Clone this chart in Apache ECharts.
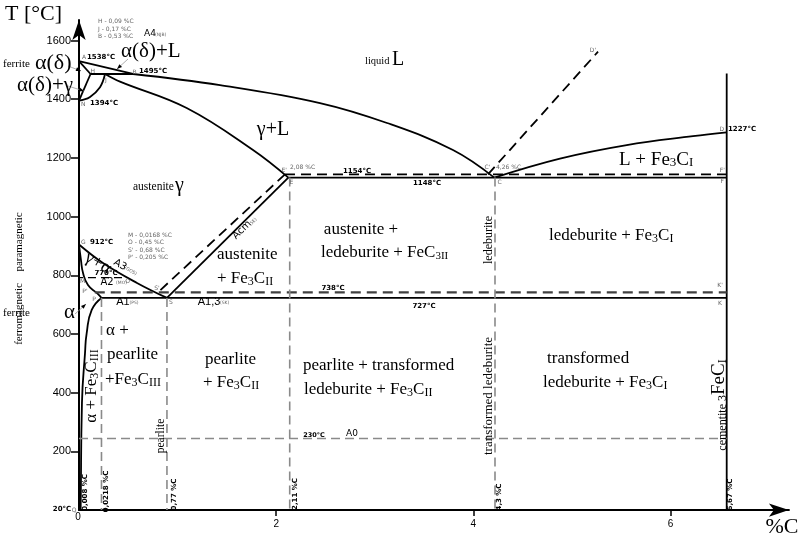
<!DOCTYPE html>
<html><head><meta charset="utf-8">
<script src="https://cdn.jsdelivr.net/npm/echarts@6/dist/echarts.min.js"></script>
<style>html,body{margin:0;padding:0;background:#fff}#c{width:800px;height:537px}</style>
</head><body><div id="c"></div>
<script>
// ---- data (x = %C on the drawn axis, y = °C on the drawn axis) ----
const xTickValues = [2, 4, 6];
const yTickValues = [200, 400, 600, 800, 1000, 1200, 1400, 1600];

const lineAB = [[0, 1530], [0.548, 1486]];
const lineAH = [[0, 1530], [0.117, 1486]];
const lineHN = [[0.117, 1486], [0, 1395]];
const lineHB = [[0.117, 1486], [0.548, 1486]];
const curveJN = [[0.264, 1486], [0.213, 1441], [0.112, 1408], [0.027, 1397], [0, 1395]];
const curveJE = [[0.264, 1486], [0.416, 1460], [1.092, 1370], [1.765, 1227], [2.123, 1133]];
const liquidusBC = [[0.548, 1486], [1.43, 1448], [2.444, 1387], [3.124, 1319], [3.793, 1227], [4.212, 1133]];
const liquidusCD = [[4.212, 1133], [4.878, 1198], [5.555, 1244], [6.227, 1274], [6.569, 1287]];
const eutecticEF = [[2.123, 1133], [6.569, 1133]];
const eutectoidPK = [[0.228, 723], [6.569, 723]];
const lineES = [[2.123, 1133], [0.892, 723]];
const curveGS = [[0, 905], [0.243, 842], [0.588, 774], [0.892, 723]];
const curveGP = [[0, 905], [0.02, 852], [0.041, 808], [0.091, 767], [0.183, 739], [0.228, 723]];
const curvePQ = [[0.228, 723], [0.129, 682], [0.078, 603], [0.061, 535], [0.03, 365], [0.017, 10], [0.015, 0]];
const cementiteLine = [[6.569, 1488], [6.569, 0]];

const stableES = [[2.089, 1144], [0.801, 742]];
const stableEF = [[2.089, 1144], [6.569, 1144]];
const stableCD = [[4.148, 1144], [5.264, 1562]];
const stablePK = [[0.16, 742], [6.569, 742]];
const curieLine = [[-0.7, 792], [0.467, 792]];

const dropP = [[0.228, 723], [0.228, 0]];
const dropS = [[0.892, 723], [0.892, 0]];
const dropE = [[2.137, 1133], [2.137, 0]];
const dropC = [[4.219, 1133], [4.219, 0]];
const lineA0 = [[0, 244], [6.569, 244]];

// ---- styles ----
const SERIF = "'Liberation Serif','DejaVu Serif',serif";
const SANS = "'DejaVu Sans',sans-serif";
const LSANS = "'Liberation Sans','DejaVu Sans',sans-serif";

function ln(data, color, width, type, smooth) {
  return { type: 'line', data: data, symbol: 'none', showSymbol: false, smooth: smooth || false,
    clip: false, silent: true, animation: false,
    lineStyle: { color: color, width: width, type: type || 'solid' }, z: 3 };
}
const BLK = '#000', GRY = '#8a8a8a', DK = '#404040';
const series = [
  ln(lineAB, BLK, 1.8), ln(lineAH, BLK, 1.8), ln(lineHN, BLK, 1.8), ln(lineHB, BLK, 1.8),
  ln(curveJN, BLK, 1.8, 'solid', 0.4), ln(curveJE, BLK, 1.8, 'solid', 0.4),
  ln(liquidusBC, BLK, 1.8, 'solid', 0.4), ln(liquidusCD, BLK, 1.8, 'solid', 0.4),
  ln(eutecticEF, BLK, 1.8), ln(eutectoidPK, BLK, 1.8), ln(lineES, BLK, 1.8),
  ln(curveGS, BLK, 1.8, 'solid', 0.4), ln(curveGP, BLK, 1.8, 'solid', 0.5),
  ln(curvePQ, BLK, 1.8, 'solid', 0.5), ln(cementiteLine, BLK, 1.8),
  ln(stableES, BLK, 1.8, [10, 6]), ln(stableEF, BLK, 1.8, [10, 6]), ln(stableCD, BLK, 1.8, [10, 6]),
  ln(stablePK, DK, 2.4, [10, 6]), ln(curieLine, BLK, 1.4, [8, 5]),
  ln(dropP, GRY, 1.6, [9, 5]), ln(dropS, GRY, 1.6, [9, 5]), ln(dropE, GRY, 1.6, [9, 5]),
  ln(dropC, GRY, 1.6, [9, 5]), ln(lineA0, GRY, 1.6, [9, 5])
];

// ---- annotation text ----
function t(x, y, text, o) {
  o = o || {};
  const st = { text: text, fill: o.color || '#000', fontSize: o.size || 12, fontFamily: o.font || SERIF,
    fontWeight: o.weight || 'normal', align: o.align || 'left', verticalAlign: 'middle' };
  if (o.rich) st.rich = o.rich;
  return { type: 'text', x: x, y: y, rotation: o.rot || 0, z: 100, silent: true, style: st };
}
function R(big, small) {
  return { m: { fontSize: big, fontFamily: SERIF, verticalAlign: 'bottom', fill: '#000' },
           s: { fontSize: small, fontFamily: SERIF, verticalAlign: 'bottom', fill: '#000' } };
}
const tiny = { size: 6, font: SANS, color: '#666' };
const tinyC = { size: 6, font: SANS, color: '#666', align: 'center' };
const bold7 = { size: 7, font: SANS, weight: 'bold' };
const VP = Math.PI / 2;
function leader(x1, y1, x2, y2) {
  const dx = x2 - x1, dy = y2 - y1, L = Math.sqrt(dx * dx + dy * dy), ux = dx / L, uy = dy / L;
  const bx = x2 - ux * 5, by = y2 - uy * 5;
  return [
    { type: 'line', z: 99, silent: true, shape: { x1: x1, y1: y1, x2: x2, y2: y2 }, style: { stroke: '#999', lineWidth: 0.8 } },
    { type: 'polygon', z: 99, silent: true, shape: { points: [[x2, y2], [bx - uy * 2, by + ux * 2], [bx + uy * 2, by - ux * 2]] }, style: { fill: '#000' } }
  ];
}

const texts = [
  t(5, 14, 'T [°C]', { size: 22 }),
  t(782, 527, '%C', { size: 22, align: 'center' }),
  t(78, 517.5, '0', { size: 10, font: LSANS, align: 'center' }),
  t(98, 21.7, 'H - 0,09 %C', tiny), t(98, 29, 'J - 0,17 %C', tiny), t(98, 36.3, 'B - 0,53 %C', tiny),
  t(144, 34, 'A4', { size: 9, font: SANS }), t(155, 35, '(NJB)', { size: 4.5, font: SANS, color: '#666' }),
  t(121, 51, 'α(δ)+L', { size: 21 }),
  t(3, 64, 'ferrite', { size: 11 }), t(35, 63, 'α(δ)', { size: 22 }),
  t(17, 85, 'α(δ)+γ', { size: 21 }),
  t(84, 57.5, 'A', tinyC), t(87, 57.5, '1538°C', bold7),
  t(92.7, 71.5, 'H', tinyC), t(106, 80, 'J', tinyC), t(134.5, 72.7, 'B', tinyC), t(139, 71.3, '1495°C', bold7),
  t(83.3, 104.3, 'N', tinyC), t(90, 103, '1394°C', bold7),
  t(365, 61.5, 'liquid', { size: 10.5 }), t(392, 60, 'L', { size: 20 }),
  t(273, 130, 'γ+L', { size: 20, align: 'center' }),
  t(133, 187, 'austenite', { size: 11.5 }), t(175, 186, 'γ', { size: 20 }),
  t(284.3, 170.7, "E'", tinyC), t(291.5, 182.3, 'E', tinyC), t(290, 167.7, '2,08 %C', tiny),
  t(357, 170.7, '1154°C', { size: 7, font: SANS, weight: 'bold', align: 'center' }),
  t(427, 182.7, '1148°C', { size: 7, font: SANS, weight: 'bold', align: 'center' }),
  t(487.3, 167.3, "C'", tinyC), t(496, 167, '4,26 %C', tiny), t(499.5, 182.7, 'C', tinyC),
  t(593, 50, "D'", tinyC), t(721.7, 129, 'D', tinyC), t(728, 129, '1227°C', bold7),
  t(722.3, 170, "F'", tinyC), t(722.3, 181.7, 'F', tinyC),
  t(619, 160, '{m|L + Fe}{s|3}{m|C}{s|I}', { rich: R(19, 13) }),
  t(361, 230, 'austenite +', { size: 17, align: 'center' }),
  t(321, 253, '{m|ledeburite + FeC}{s|3II}', { rich: R(17, 11) }),
  t(489, 240, 'ledeburite', { size: 12, rot: VP, align: 'center' }),
  t(549, 236, '{m|ledeburite + Fe}{s|3}{m|C}{s|I}', { rich: R(17, 12) }),
  t(217, 255, 'austenite', { size: 17 }),
  t(217, 279, '{m|+ Fe}{s|3}{m|C}{s|II}', { rich: R(17, 12) }),
  t(242, 230, 'Acm', { size: 10, font: SANS, rot: Math.PI / 4, align: 'center' }),
  t(253, 222, '(SE)', { size: 4.5, font: SANS, color: '#666', rot: Math.PI / 4, align: 'center' }),
  t(98, 263, 'γ+α', { size: 18, rot: -Math.PI / 6, align: 'center' }),
  t(106, 273, '770°C', { size: 7, font: SANS, weight: 'bold', align: 'center' }),
  t(120, 265, 'A3', { size: 10, font: SANS, rot: -Math.PI / 6, align: 'center' }),
  t(130.5, 271, '(GOS)', { size: 4.5, font: SANS, color: '#666', rot: -Math.PI / 6, align: 'center' }),
  t(107, 282, 'A2', { size: 10, font: SANS, align: 'center' }), t(116, 283, '(MO)', { size: 4.5, font: SANS, color: '#666' }),
  t(127.7, 281.7, 'O', tinyC), t(82.7, 281.7, 'M', tinyC),
  t(128, 235, 'M - 0,0168 %C', tiny), t(128, 242.5, 'O - 0,45 %C', tiny),
  t(128, 250, "S' - 0,68 %C", tiny), t(128, 257.5, "P' - 0,205 %C", tiny),
  t(83.3, 242.7, 'G', tinyC), t(90, 242.5, '912°C', bold7),
  t(85, 291.7, "P'", tinyC), t(94, 299, 'P', tinyC), t(157, 288, "S'", tinyC), t(171, 302.5, 'S', tinyC),
  t(123, 302, 'A1', { size: 11, font: LSANS, align: 'center' }), t(129.5, 303, '(PS)', { size: 4.5, font: SANS, color: '#666' }),
  t(209, 302, 'A1,3', { size: 11, font: LSANS, align: 'center' }), t(220, 303, '(SK)', { size: 4.5, font: SANS, color: '#666' }),
  t(333, 288, '738°C', { size: 7, font: SANS, weight: 'bold', align: 'center' }),
  t(424, 305.7, '727°C', { size: 7, font: SANS, weight: 'bold', align: 'center' }),
  t(720, 285.5, "K'", tinyC), t(720, 303.7, 'K', tinyC),
  t(3, 313, 'ferrite', { size: 11 }), t(64, 312, 'α', { size: 21 }),
  t(106, 331, 'α +', { size: 17 }), t(107, 355, 'pearlite', { size: 17 }),
  t(105, 380, '{m|+Fe}{s|3}{m|C}{s|III}', { rich: R(17, 12) }),
  t(92, 386, '{m|α + Fe}{s|3}{m|C}{s|III}', { rich: R(17, 12), rot: VP, align: 'center' }),
  t(161, 436, 'pearlite', { size: 11.5, rot: VP, align: 'center' }),
  t(205, 360, 'pearlite', { size: 17 }),
  t(203, 383, '{m|+ Fe}{s|3}{m|C}{s|II}', { rich: R(17, 12) }),
  t(303, 366, 'pearlite + transformed', { size: 17 }),
  t(304, 390, '{m|ledeburite + Fe}{s|3}{m|C}{s|II}', { rich: R(17, 12) }),
  t(489, 396, 'transformed ledeburite', { size: 13, rot: VP, align: 'center' }),
  t(547, 359, 'transformed', { size: 17 }),
  t(543, 383, '{m|ledeburite + Fe}{s|3}{m|C}{s|I}', { rich: R(17, 12) }),
  t(719, 405, '{c|cementite }{s|3}{m|FeC}{s|I}', { rot: VP, align: 'center',
     rich: { c: { fontSize: 12, fontFamily: SERIF, verticalAlign: 'bottom' }, m: { fontSize: 19, fontFamily: SERIF, verticalAlign: 'bottom' }, s: { fontSize: 12, fontFamily: SERIF, verticalAlign: 'bottom' } } }),
  t(314, 435.5, '230°C', { size: 6.5, font: SANS, weight: 'bold', align: 'center' }),
  t(352, 434, 'A0', { size: 9, font: SANS, align: 'center' }),
  t(85, 492.5, '0,008 %C', { size: 7, font: SANS, weight: 'bold', rot: VP, align: 'center' }),
  t(106, 491.5, '0,0218 %C', { size: 7, font: SANS, weight: 'bold', rot: VP, align: 'center' }),
  t(174.5, 494.5, '0,77 %C', { size: 7, font: SANS, weight: 'bold', rot: VP, align: 'center' }),
  t(295, 494, '2,11 %C', { size: 7, font: SANS, weight: 'bold', rot: VP, align: 'center' }),
  t(499.5, 497, '4,3 %C', { size: 7, font: SANS, weight: 'bold', rot: VP, align: 'center' }),
  t(730.5, 494.5, '6,67 %C', { size: 7, font: SANS, weight: 'bold', rot: VP, align: 'center' }),
  t(62, 509, '20°C', { size: 7, font: SANS, weight: 'bold', align: 'center' }), t(74, 510, 'Q', tinyC),
  t(19, 242, 'paramagnetic', { size: 11, rot: VP, align: 'center' }),
  t(19, 314, 'ferromagnetic', { size: 11, rot: VP, align: 'center' })
];
const leaders = [].concat(
  leader(128, 59, 117, 69), leader(68, 66, 81, 71), leader(68, 86, 84, 91), leader(75, 314, 86, 304)
);

const chart = echarts.init(document.getElementById('c'), null, { renderer: 'canvas' });
chart.setOption({
  animation: false,
  backgroundColor: '#fff',
  grid: { left: 79, top: 20, width: 7.2 * 98.6, height: 490.1, containLabel: false, outerBoundsMode: 'none' },
  xAxis: {
    type: 'value', min: 0, max: 7.2, interval: 2, position: 'bottom',
    axisLine: { onZero: false, symbol: ['none', 'arrow'], symbolSize: [10, 20], lineStyle: { color: '#000', width: 2 } },
    axisTick: { show: true, length: 6, customValues: xTickValues, lineStyle: { color: '#000', width: 1.5 } },
    axisLabel: { customValues: xTickValues, margin: 9, fontSize: 10, fontFamily: LSANS, color: '#000',
      formatter: function (v) { return String(v); } },
    splitLine: { show: false }
  },
  yAxis: {
    type: 'value', min: 0, max: 1670, interval: 200, position: 'left',
    axisLine: { onZero: false, symbol: ['none', 'arrow'], symbolSize: [10, 20], lineStyle: { color: '#000', width: 2 } },
    axisTick: { show: true, length: 8, customValues: yTickValues, lineStyle: { color: '#000', width: 1.5 } },
    axisLabel: { customValues: yTickValues, margin: 8, fontSize: 11, fontFamily: LSANS, color: '#000',
      formatter: function (v) { return String(v); } },
    splitLine: { show: false }
  },
  series: series,
  graphic: texts.concat(leaders)
});
</script></body></html>
